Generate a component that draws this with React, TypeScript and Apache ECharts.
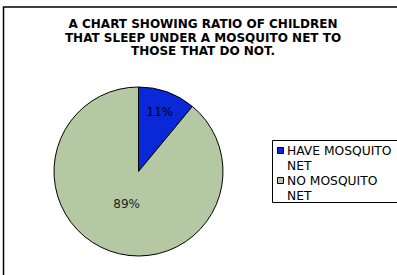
import React, { useEffect, useRef } from "react";
import * as echarts from "echarts";

const titleLines = [
  "A CHART SHOWING RATIO OF CHILDREN",
  "THAT SLEEP UNDER A MOSQUITO NET TO",
  "THOSE THAT DO NOT.",
];
const categories = ["HAVE MOSQUITO NET", "NO MOSQUITO NET"];
const legendLines = [
  ["HAVE MOSQUITO", "NET"],
  ["NO MOSQUITO", "NET"],
];
const values = [11, 89];
const colors = ["#0A28D8", "#B3C8A3"];

export default function App() {
  const ref = useRef<HTMLDivElement>(null);
  useEffect(() => {
    if (!ref.current) return;
    const chart = echarts.init(ref.current, null, { renderer: "svg" });
    const font = "'DejaVu Sans', Verdana, sans-serif";
    const legendItems: any[] = [];
    categories.forEach((c, i) => {
      const y0 = 147 + i * 30;
      legendItems.push({
        type: "rect",
        shape: { x: 277.5, y: y0 + 0.5, width: 6, height: 6 },
        style: { fill: colors[i], stroke: "#000", lineWidth: 1 },
      });
      legendLines[i].forEach((ln, j) => {
        legendItems.push({
          type: "text",
          x: 287,
          y: y0 + 3.5 + j * 15,
          style: {
            text: ln,
            font: `12.3px ${font}`,
            fill: "#000",
            verticalAlign: "middle",
            align: "left",
          },
        });
      });
    });
    chart.setOption({
      animation: false,
      graphic: [
        {
          type: "rect",
          shape: { x: 3.5, y: 7, width: 420, height: 300 },
          style: { fill: "none", stroke: "#000", lineWidth: 1.5 },
          z: 10,
        },
        {
          type: "rect",
          shape: { x: 272.5, y: 140.5, width: 140, height: 62 },
          style: { fill: "#fff", stroke: "#000", lineWidth: 1 },
        },
        ...titleLines.map((t, i) => ({
          type: "text",
          x: 203,
          y: 24 + i * 13.5,
          style: {
            text: t,
            font: `bold 12px ${font}`,
            fill: "#000",
            align: "center",
            verticalAlign: "middle",
          },
        })),
        ...legendItems,
      ],
      series: [
        {
          type: "pie",
          center: [138.5, 171.5],
          radius: 84.5,
          startAngle: 90,
          clockwise: true,
          silent: true,
          data: categories.map((c, i) => ({
            name: c,
            value: values[i],
            itemStyle: { color: colors[i] },
            label: { color: i === 0 ? "#000" : "#222" },
          })),
          itemStyle: { borderColor: "#000", borderWidth: 1 },
          label: {
            show: true,
            position: "inside",
            formatter: (p: any) => Math.round(p.percent) + "%",
            fontFamily: font,
            fontSize: 12,
            textBorderWidth: 0,
            textBorderColor: "transparent",
          },
          labelLine: { show: false },
          labelLayout: (p: any) =>
            p.dataIndex === 0 ? { dx: 6, dy: -17 } : { dx: 3.5, dy: -10 },
        },
      ],
    });
    return () => chart.dispose();
  }, []);
  return (
    <div
      ref={ref}
      style={{ position: "fixed", left: 0, top: 0, width: 397, height: 275, background: "#fff" }}
    />
  );
}
